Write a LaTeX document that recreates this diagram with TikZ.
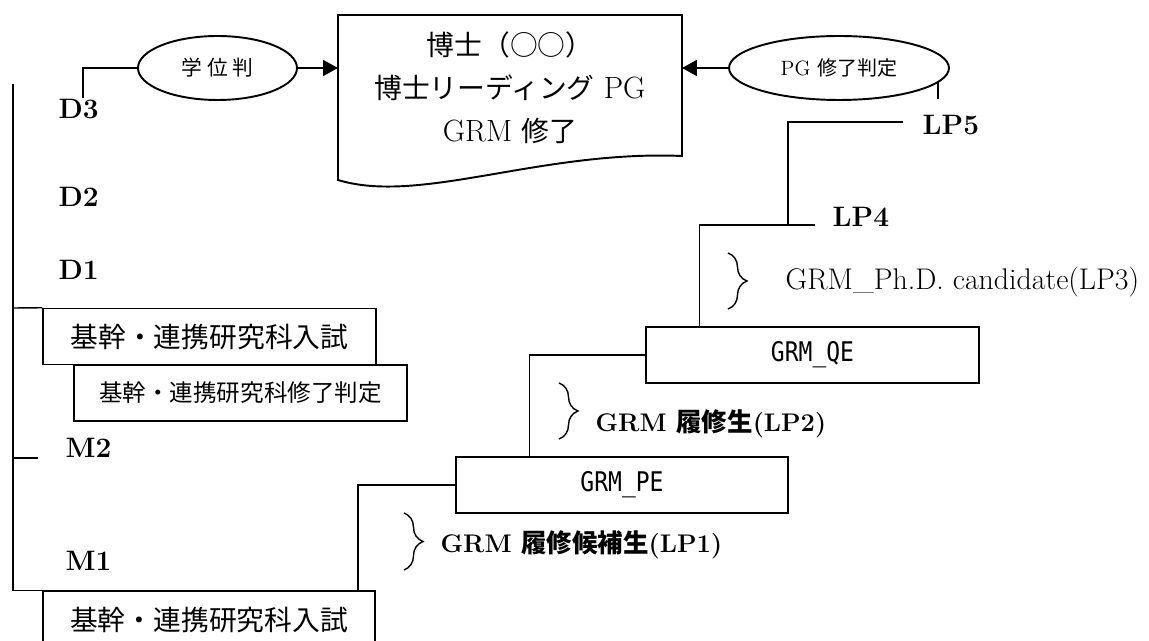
\documentclass[tikz,border=0pt]{standalone}
\usepackage{fontspec}
\usetikzlibrary{arrows.meta,shapes.geometric,decorations.pathreplacing}
\newfontfamily\jpfont{Noto Sans CJK JP}
\newfontfamily\grmfont[FakeStretch=0.85]{DejaVu Sans Mono}
\newcommand\docjp[1]{{\jpfont\fontsize{15.8}{24.5}\selectfont #1}}

\tikzset{
  stagebox/.style={draw, line width=0.85pt, inner sep=0pt,
    minimum width=6.66cm, minimum height=1.12cm,
    font=\jpfont\fontsize{15.8}{18}\selectfont},
  grmbox/.style={draw, line width=0.85pt, inner sep=0pt,
    minimum width=6.64cm, minimum height=1.12cm,
    font=\grmfont\fontsize{15.4}{17}\selectfont},
  judge/.style={ellipse, draw, line width=1.1pt, inner sep=0pt,
    minimum height=1.28cm, font=\fontsize{11.8}{13}\selectfont},
  yearlabel/.style={anchor=base west, inner sep=0pt,
    font=\bfseries\fontsize{16}{18}\selectfont},
  lplabel/.style={anchor=base west, inner sep=0pt},
  stagebrace/.style={decorate, line width=0.8pt,
    decoration={brace, amplitude=0.38cm}},
  arrowline/.style={line width=1.3pt, -{Triangle[length=8.5pt, width=9pt]}},
}

\begin{document}
\begin{tikzpicture}[x=0.02cm, y=-0.02cm, line width=0.8pt]
  \useasboundingbox (0,0) rectangle (1149,641);

  % ---- Degree document ----
  \draw[line width=1.1pt] (338,15) -- (682,15) -- (682,156)
    .. controls (540,150) and (420,205) .. (338,180) -- cycle;
  \node[font=\fontsize{17.5}{24.5}\selectfont, align=center] (doc) at (510,88)
    {\docjp{博士（○○）}\\\docjp{博士リーディング} PG\\GRM \docjp{修了}};
  \coordinate (docW) at (338,68);
  \coordinate (docE) at (682,68);

  % ---- Judgements ----
  \node[judge, minimum width=3.18cm] (degree) at (217.5,68) {\jpfont 学 位 判};
  \node[judge, minimum width=4.4cm] (pgjudge) at (839,68)
    {PG {\jpfont\fontsize{11.4}{13}\selectfont 修了判定}};
  \draw[arrowline] (degree) -- (docW);
  \draw[arrowline] (pgjudge) -- (docE);

  \coordinate (d3hook) at (83,98);
  \draw[line width=1.1pt] (d3hook) |- (degree.west);
  \coordinate (lp5tickA) at (938,81);
  \coordinate (lp5tickB) at (938,99);
  \draw (lp5tickA) -- (lp5tickB);

  % ---- Years ----
  \node[yearlabel] (d3) at (58,119) {D3};
  \node[yearlabel] (d2) at (58,207) {D2};
  \node[yearlabel] (d1) at (58,280) {D1};
  \node[yearlabel] (m2) at (65,458) {M2};
  \node[yearlabel] (m1) at (65,570) {M1};

  % ---- Graduate school boxes ----
  \node[stagebox] (entryD) at (209.5,336.5) {基幹・連携研究科入試};
  \node[stagebox, font=\jpfont\fontsize{13.4}{16}\selectfont]
    (finishM) at (240.5,393) {基幹・連携研究科修了判定};
  \node[stagebox, minimum width=6.64cm, minimum height=1.16cm]
    (entryM) at (209,620) {基幹・連携研究科入試};

  \coordinate (spineTop) at (13,84);
  \draw (spineTop) -- (spineTop |- entryM.north) -- (entryM.north west);
  \coordinate (d1tick) at (13,308);
  \draw (d1tick) -- (entryD.north west);
  \coordinate (m2tick) at (13,458);
  \coordinate (m2end) at (38,458);
  \draw (m2tick) -- (m2end);

  % ---- GRM steps ----
  \node[grmbox] (pe) at (622,485) {GRM\_PE};
  \node[grmbox, minimum width=6.66cm] (qe) at (812.5,355) {GRM\_QE};

  \coordinate (peFoot) at (358,591);
  \draw (pe.west) -| (peFoot);
  \draw ([xshift=1.48cm]pe.north west) |- (qe.west);
  \coordinate (lp4end) at (815,225);
  \draw ([xshift=1.08cm]qe.north west) |- (lp4end);
  \coordinate (lp4knee) at (788,225);
  \coordinate (lp5end) at (903,122);
  \draw (lp4knee) |- (lp5end);

  \node[yearlabel] (lp5) at (922,135) {LP5};
  \node[yearlabel] (lp4) at (832,227) {LP4};

  % ---- Stages ----
  \draw[stagebrace] (728,253) -- (728,309);
  \node[lplabel, font=\fontsize{17}{19}\selectfont] (lp3) at (785,290)
    {GRM\_Ph.D. candidate(LP3)};
  \draw[stagebrace] (559,383) -- (559,439);
  \node[lplabel, font=\bfseries\fontsize{14.5}{16}\selectfont] (lp2) at (595,432)
    {GRM {\jpfont 履修生}(LP2)};
  \draw[stagebrace] (404,513) -- (404,570);
  \node[lplabel, font=\bfseries\fontsize{14.5}{16}\selectfont] (lp1) at (440,552)
    {GRM {\jpfont 履修候補生}(LP1)};
\end{tikzpicture}
\end{document}
